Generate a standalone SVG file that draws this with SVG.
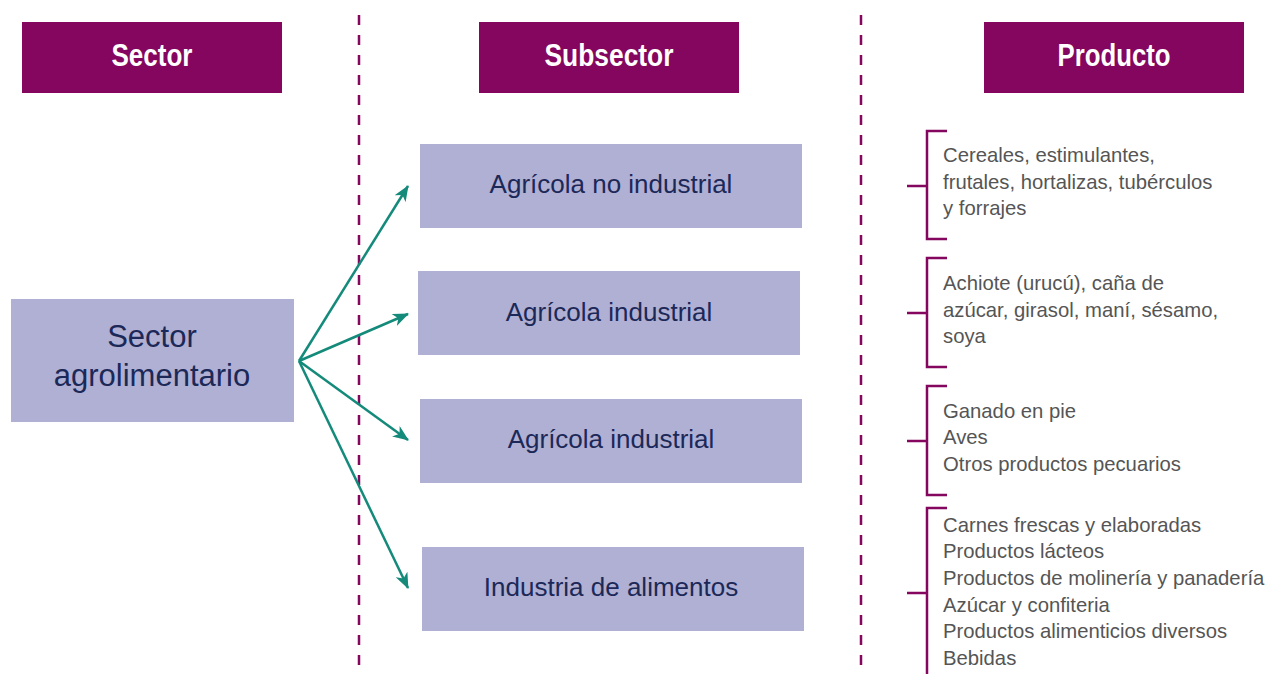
<svg xmlns="http://www.w3.org/2000/svg" width="1270" height="674" viewBox="0 0 1270 674">
<style>
.hdr{fill:#84065F}
.hdrt{font-family:"Liberation Sans",Arial,sans-serif;font-weight:bold;font-size:32px;fill:#fff;text-anchor:middle}
.box{fill:#AFB0D3}
.bt{font-family:"Liberation Sans",Arial,sans-serif;fill:#1C2858;text-anchor:middle}
.pt{font-family:"Liberation Sans",Arial,sans-serif;font-size:20.3px;fill:#555555}
.dash{stroke:#84065F;stroke-width:2.5;stroke-dasharray:10 10;fill:none}
.brk{stroke:#84065F;stroke-width:2.5;fill:none}
.arr{stroke:#138A7A;stroke-width:2.5;fill:none;marker-end:url(#ah)}
</style>
<defs>
<marker id="ah" markerUnits="userSpaceOnUse" viewBox="0 0 16 13" markerWidth="16" markerHeight="13" refX="15" refY="6.5" orient="auto">
<path d="M0,0 L16,6.5 L0,13 L4.5,6.5 z" fill="#138A7A"/>
</marker>
</defs>
<rect width="1270" height="674" fill="#fff"/>
<g id="dividers">
<line class="dash" x1="359" y1="15" x2="359" y2="674"/>
<line class="dash" x1="861" y1="15" x2="861" y2="674"/>
</g>
<g id="hdr-sector"><rect class="hdr" x="22" y="22" width="260" height="71"/><text class="hdrt" x="152" y="66" textLength="81" lengthAdjust="spacingAndGlyphs">Sector</text></g>
<g id="hdr-subsector"><rect class="hdr" x="479" y="22" width="260" height="71"/><text class="hdrt" x="609" y="66" textLength="129" lengthAdjust="spacingAndGlyphs">Subsector</text></g>
<g id="hdr-producto"><rect class="hdr" x="984" y="22" width="260" height="71"/><text class="hdrt" x="1114" y="66" textLength="113" lengthAdjust="spacingAndGlyphs">Producto</text></g>
<g id="sector"><rect class="box" x="11" y="299" width="283" height="123"/>
<text class="bt" x="152" y="347" font-size="31">Sector</text>
<text class="bt" x="152" y="386" font-size="31">agrolimentario</text></g>
<g id="sub1"><rect class="box" x="420" y="144" width="382" height="84"/><text class="bt" x="611" y="193" font-size="26">Agrícola no industrial</text></g>
<g id="sub2"><rect class="box" x="418" y="271" width="382" height="84"/><text class="bt" x="609" y="321" font-size="26">Agrícola industrial</text></g>
<g id="sub3"><rect class="box" x="420" y="399" width="382" height="84"/><text class="bt" x="611" y="448" font-size="26">Agrícola industrial</text></g>
<g id="sub4"><rect class="box" x="422" y="547" width="382" height="84"/><text class="bt" x="611" y="596" font-size="26">Industria de alimentos</text></g>
<g id="connectors">
<line class="arr" x1="299" y1="361" x2="408" y2="186"/>
<line class="arr" x1="299" y1="361" x2="408" y2="314"/>
<line class="arr" x1="299" y1="361" x2="408" y2="440"/>
<line class="arr" x1="299" y1="361" x2="408" y2="588"/>
</g>
<g id="prod1">
<path class="brk" d="M947,131 H927 V239 H947 M907,186 H927"/>
<text class="pt" x="943" y="162">Cereales, estimulantes,</text>
<text class="pt" x="943" y="188.5">frutales, hortalizas, tubérculos</text>
<text class="pt" x="943" y="215">y forrajes</text>
</g>
<g id="prod2">
<path class="brk" d="M947,258 H927 V367 H947 M907,313 H927"/>
<text class="pt" x="943" y="289.5">Achiote (urucú), caña de</text>
<text class="pt" x="943" y="316.5">azúcar, girasol, maní, sésamo,</text>
<text class="pt" x="943" y="343">soya</text>
</g>
<g id="prod3">
<path class="brk" d="M947,386 H927 V495 H947 M907,441 H927"/>
<text class="pt" x="943" y="417.5">Ganado en pie</text>
<text class="pt" x="943" y="444">Aves</text>
<text class="pt" x="943" y="470.5">Otros productos pecuarios</text>
</g>
<g id="prod4">
<path class="brk" d="M947,508 H927 V674 M907,593 H927"/>
<text class="pt" x="943" y="531.5">Carnes frescas y elaboradas</text>
<text class="pt" x="943" y="558.2">Productos lácteos</text>
<text class="pt" x="943" y="584.9">Productos de molinería y panadería</text>
<text class="pt" x="943" y="611.6">Azúcar y confiteria</text>
<text class="pt" x="943" y="638.3">Productos alimenticios diversos</text>
<text class="pt" x="943" y="665">Bebidas</text>
</g>
</svg>
